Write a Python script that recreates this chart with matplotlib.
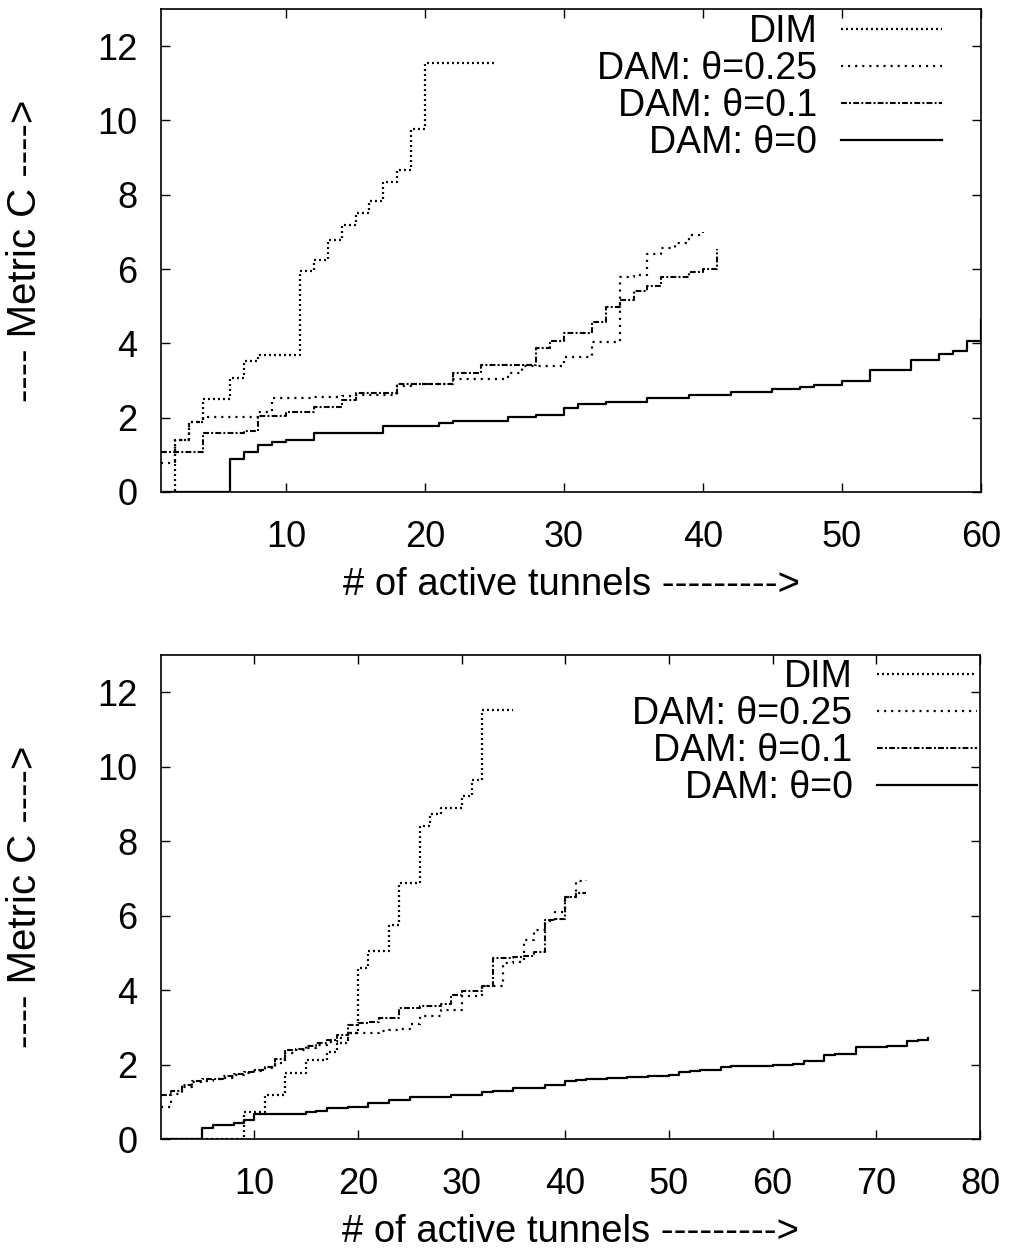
# ---------- IMPORT ------------
import matplotlib
matplotlib.use("Agg")
import matplotlib.pyplot as plt
# ------------------------------


# ---------- DATA --------------
# top panel: metric C per number of active tunnels (step curves)
top_dim_x = list(range(1, 26))
top_dim_y = [0, 1.4, 1.89, 2.49, 2.49, 3.08, 3.52, 3.69, 3.69, 3.69, 5.95, 6.24, 6.78,
             7.18, 7.5, 7.83, 8.35, 8.68, 9.78, 11.55, 11.55, 11.55, 11.55, 11.55, 11.55]

top_d25_x = list(range(1, 41))
top_d25_y = [0.77, 1.4, 1.89, 2.03, 2.03, 2.03, 2.03, 2.16, 2.52, 2.53, 2.54, 2.55, 2.56,
             2.57, 2.62, 2.62, 2.62, 2.85, 2.9, 2.9, 2.9, 3.05, 3.05, 3.05, 3.05, 3.2,
             3.38, 3.38, 3.38, 3.62, 3.64, 4.04, 4.04, 5.79, 5.85, 6.4, 6.56, 6.71, 6.91, 7.0]

top_d10_x = list(range(1, 42))
top_d10_y = [1.08, 1.08, 1.08, 1.58, 1.58, 1.58, 1.65, 2.04, 2.04, 2.14, 2.16, 2.3, 2.3,
             2.48, 2.67, 2.67, 2.67, 2.9, 2.9, 2.9, 2.9, 3.2, 3.2, 3.43, 3.43, 3.43, 3.43,
             3.87, 4.05, 4.27, 4.27, 4.57, 4.98, 5.17, 5.41, 5.54, 5.79, 5.79, 5.93, 6.0, 6.53]

top_d0_x = list(range(1, 61))
top_d0_y = [0, 0, 0, 0, 0, 0.88, 1.08, 1.26, 1.35, 1.41, 1.41, 1.6, 1.6, 1.6, 1.6, 1.6,
            1.78, 1.78, 1.78, 1.78, 1.85, 1.92, 1.92, 1.92, 1.92, 2.02, 2.02, 2.06, 2.06,
            2.27, 2.37, 2.37, 2.43, 2.43, 2.43, 2.52, 2.52, 2.52, 2.62, 2.62, 2.62, 2.69,
            2.69, 2.69, 2.78, 2.78, 2.82, 2.88, 2.88, 2.99, 2.99, 3.27, 3.27, 3.27, 3.55,
            3.55, 3.71, 3.8, 4.07, 4.63]

# bottom panel
bot_dim_x = list(range(1, 36))
bot_dim_y = [0, 0, 0, 0, 0, 0, 0, 0, 0.73, 0.73, 1.18, 1.18, 1.77, 1.77, 2.12, 2.12, 2.35,
             2.58, 2.85, 4.59, 5.06, 5.06, 5.75, 6.87, 6.87, 8.4, 8.74, 8.89, 8.89, 9.2,
             9.65, 11.53, 11.53, 11.53, 11.53]

bot_d25_x = list(range(1, 43))
bot_d25_y = [0.87, 1.2, 1.4, 1.52, 1.57, 1.6, 1.65, 1.72, 1.77, 1.82, 1.9, 2.05, 2.3, 2.4,
             2.45, 2.52, 2.6, 2.72, 2.84, 2.84, 2.86, 2.9, 2.92, 2.95, 3.1, 3.3, 3.3, 3.47,
             3.47, 3.83, 3.83, 4.12, 4.12, 4.72, 4.76, 5.35, 5.6, 5.85, 6.1, 6.5, 6.92, 6.96]

bot_d10_x = list(range(1, 43))
bot_d10_y = [1.18, 1.3, 1.45, 1.55, 1.6, 1.62, 1.68, 1.75, 1.8, 1.85, 1.93, 2.15, 2.38,
             2.42, 2.5, 2.58, 2.66, 2.8, 3.06, 3.12, 3.15, 3.24, 3.24, 3.51, 3.51, 3.58,
             3.58, 3.62, 3.87, 3.97, 3.97, 4.12, 4.86, 4.86, 4.9, 4.92, 5.01, 5.87, 5.9,
             6.5, 6.6, 6.6]

bot_d0_x = list(range(1, 76))
bot_d0_y = [0, 0, 0, 0, 0.29, 0.38, 0.38, 0.44, 0.51, 0.67, 0.67, 0.67, 0.67, 0.67, 0.72,
            0.76, 0.82, 0.82, 0.87, 0.87, 0.98, 0.98, 1.05, 1.05, 1.12, 1.12, 1.12, 1.12,
            1.18, 1.18, 1.18, 1.27, 1.3, 1.3, 1.38, 1.38, 1.38, 1.45, 1.45, 1.57, 1.58,
            1.6, 1.61, 1.63, 1.64, 1.66, 1.67, 1.69, 1.7, 1.72, 1.81, 1.82, 1.84, 1.86,
            1.94, 1.95, 1.95, 1.96, 1.97, 1.98, 2.0, 2.02, 2.1, 2.1, 2.26, 2.27, 2.28,
            2.46, 2.47, 2.48, 2.49, 2.5, 2.64, 2.66, 2.7]

labels = ["DIM", "DAM: \u03b8=0.25", "DAM: \u03b8=0.1", "DAM: \u03b8=0"]
# ------------------------------


# ---------- CONFIG ------------
plt.rcParams['font.family'] = ['Liberation Sans', 'DejaVu Sans']
plt.rcParams['lines.scale_dashes'] = False
styles = [(0, (1.4, 2.2)), (0, (1.5, 3.6)), (0, (4.2, 1.6, 1.4, 1.6)), '-']
widths = [1.6, 1.6, 1.5, 1.6]
fsize = 26
lsize = 27
# ------------------------------


fig = plt.figure(figsize=(10.11, 12.54), dpi=100)
ax1 = fig.add_axes([0.1592, 0.6077, 0.8111, 0.3851])
ax2 = fig.add_axes([0.1592, 0.0917, 0.8101, 0.3860])

panels = [
    (ax1, [(top_dim_x, top_dim_y), (top_d25_x, top_d25_y), (top_d10_x, top_d10_y), (top_d0_x, top_d0_y)],
     60, range(10, 61, 10), (0.952, 0.990)),
    (ax2, [(bot_dim_x, bot_dim_y), (bot_d25_x, bot_d25_y), (bot_d10_x, bot_d10_y), (bot_d0_x, bot_d0_y)],
     80, range(10, 81, 10), (0.996, 0.992)),
]

for ax, series, xmax, xticks, anchor in panels:
    for (xs, ys), lab, ls, lw in zip(series, labels, styles, widths):
        ax.step(xs, ys, where='post', color='black', linestyle=ls, linewidth=lw, label=lab)
    ax.set_xlim(1, xmax)
    ax.set_ylim(0, 13)
    ax.set_xticks(list(xticks))
    ax.set_yticks(range(0, 13, 2))
    ax.tick_params(direction='in', top=True, right=True, length=6.5, width=1.0,
                   labelsize=fsize)
    ax.tick_params(axis='y', pad=17)
    ax.tick_params(axis='x', pad=20)
    for sp in ax.spines.values():
        sp.set_linewidth(1.2)
    ax.set_xlabel("# of active tunnels --------->", fontsize=27.5, labelpad=9)
    ax.set_ylabel("---- Metric C ---->", fontsize=29, labelpad=38)
    ax.legend(loc='upper right', bbox_to_anchor=anchor, frameon=False, markerfirst=False,
              fontsize=lsize, handlelength=2.67, handletextpad=0.64, labelspacing=0.03,
              borderpad=0, borderaxespad=0)

fig.savefig("out.png", dpi=100)
